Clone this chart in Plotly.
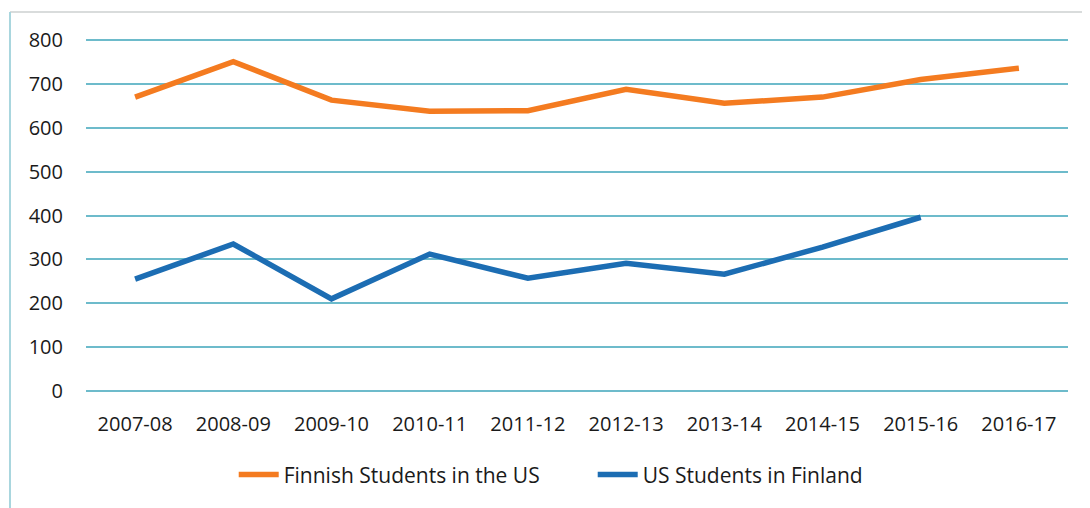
import plotly.graph_objects as go

years = ["2007-08", "2008-09", "2009-10", "2010-11", "2011-12",
         "2012-13", "2013-14", "2014-15", "2015-16", "2016-17"]
finnish_in_us = [670, 751, 663, 638, 639, 688, 656, 670, 710, 736]
us_in_finland = [255, 335, 210, 312, 257, 291, 266, 328, 396, None]
y_ticks = [0, 100, 200, 300, 400, 500, 600, 700, 800]

ORANGE = "#F47B20"
BLUE = "#1C6DB3"
GRID = "#6DBBCB"
FONT = "Open Sans"

fig = go.Figure()
fig.add_trace(go.Scatter(x=years, y=finnish_in_us, mode="lines",
                         name="Finnish Students in the US",
                         line=dict(color=ORANGE, width=5.5)))
fig.add_trace(go.Scatter(x=years, y=us_in_finland, mode="lines",
                         name="US Students in Finland",
                         line=dict(color=BLUE, width=5.5),
                         connectgaps=False))

fig.update_layout(
    width=1082, height=500,
    margin=dict(l=78, r=22, t=31, b=116),
    paper_bgcolor="white", plot_bgcolor="white",
    font=dict(family=FONT, size=20, color="#1a1a1a"),
    showlegend=True,
    legend=dict(orientation="h", x=0.516, xanchor="center",
                y=-0.235, yanchor="middle",
                font=dict(family=FONT, size=21, color="#1a1a1a"),
                entrywidth=304, entrywidthmode="pixels",
                itemwidth=40, tracegroupgap=0),
    xaxis=dict(type="category", range=[-0.5, 9.5], showgrid=False,
               showline=False, zeroline=False, ticks="",
               ticklabelstandoff=18, tickfont=dict(size=20)),
    yaxis=dict(range=[-2.5, 802.5], tickvals=y_ticks, showgrid=True,
               gridcolor=GRID, gridwidth=2, zeroline=True,
               zerolinecolor=GRID, zerolinewidth=2,
               showline=False, ticks="", ticklabelstandoff=22,
               tickfont=dict(size=20)),
)

# chart border (light frame)
fig.add_shape(type="line", xref="paper", yref="paper",
              x0=-0.0774, x1=1.03, y0=1.0765, y1=1.0765,
              line=dict(color="#D9DCDC", width=2))
fig.add_shape(type="line", xref="paper", yref="paper",
              x0=-0.0774, x1=-0.0774, y0=1.0765, y1=-0.34,
              line=dict(color="#A9D6DE", width=2))

fig.write_html("out.html")
